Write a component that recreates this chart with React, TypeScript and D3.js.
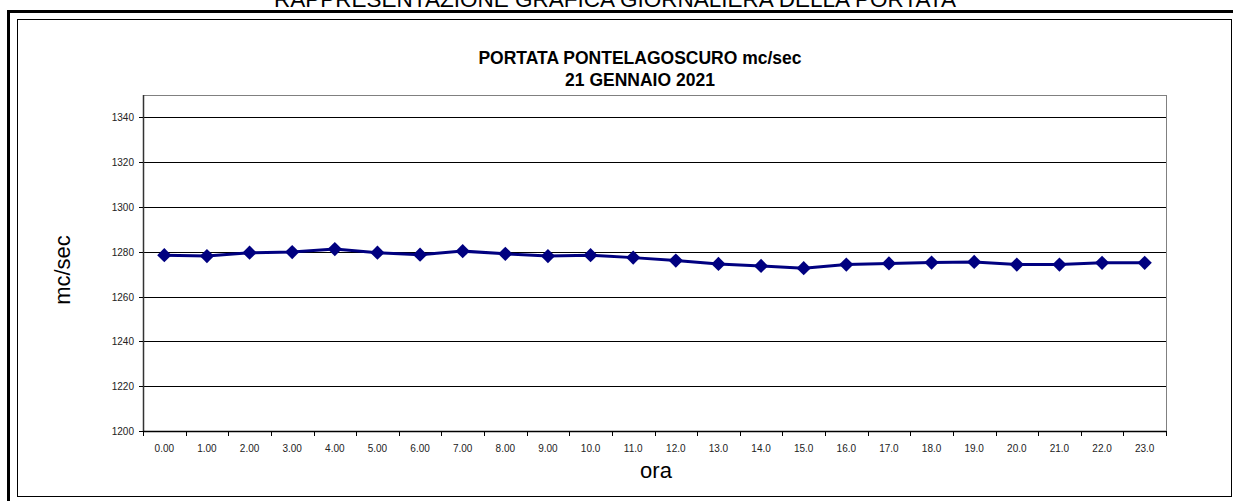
import * as d3 from 'd3';
import React, { useEffect, useRef } from 'react';

const WIDTH = 1233;
const HEIGHT = 501;

const hourLabels = [
  '0.00', '1.00', '2.00', '3.00', '4.00', '5.00', '6.00', '7.00', '8.00', '9.00',
  '10.0', '11.0', '12.0', '13.0', '14.0', '15.0', '16.0', '17.0', '18.0', '19.0',
  '20.0', '21.0', '22.0', '23.0',
];
const portata = [
  1278.5, 1278.1, 1279.6, 1279.9, 1281.2, 1279.6, 1278.7, 1280.3, 1279.1, 1278.1,
  1278.5, 1277.4, 1276.1, 1274.6, 1273.7, 1272.7, 1274.3, 1274.8, 1275.2, 1275.5,
  1274.3, 1274.3, 1275.1, 1275.1,
];
const yTicks = [1200, 1220, 1240, 1260, 1280, 1300, 1320, 1340];

const pageTitle = 'RAPPRESENTAZIONE GRAFICA GIORNALIERA DELLA PORTATA';
const chartTitle = ['PORTATA PONTELAGOSCURO mc/sec', '21 GENNAIO 2021'];
const yLabel = 'mc/sec';
const xLabel = 'ora';

const FONT = 'Arial, "Liberation Sans", Helvetica, sans-serif';
const plot = { left: 143, top: 95, right: 1166, bottom: 431 };

const App: React.FC = () => {
  const ref = useRef<SVGSVGElement>(null);

  useEffect(() => {
    const svg = d3.select(ref.current);
    svg.selectAll('*').remove();

    const x = d3.scaleBand<string>().domain(hourLabels).range([plot.left, plot.right]).padding(0);
    const y = d3.scaleLinear().domain([1200, 1350]).range([plot.bottom, plot.top]);

    svg.append('rect').attr('width', WIDTH).attr('height', HEIGHT).attr('fill', '#fff');

    // page heading, cut off by the top edge as in the scanned page
    svg.append('text')
      .attr('x', 615)
      .attr('y', 7)
      .attr('text-anchor', 'middle')
      .style('font-family', FONT)
      .style('font-size', '22.5px')
      .text(pageTitle);

    // outer thick frame and inner chart border
    svg.append('path')
      .attr('d', `M8.5,${HEIGHT + 5} V11.5 H${WIDTH + 5}`)
      .attr('fill', 'none')
      .attr('stroke', '#000')
      .attr('stroke-width', 3);
    svg.append('rect')
      .attr('x', 17.5)
      .attr('y', 19.5)
      .attr('width', 1214)
      .attr('height', 477)
      .attr('fill', 'none')
      .attr('stroke', '#000')
      .attr('stroke-width', 1);

    // titles
    chartTitle.forEach((t, i) => {
      svg.append('text')
        .attr('x', 640)
        .attr('y', 64 + i * 22)
        .attr('text-anchor', 'middle')
        .style('font-family', FONT)
        .style('font-size', '17.5px')
        .style('font-weight', 'bold')
        .text(t);
    });

    // gridlines
    svg.append('g')
      .selectAll('line')
      .data(yTicks.slice(1))
      .enter()
      .append('line')
      .attr('x1', plot.left)
      .attr('x2', plot.right)
      .attr('y1', d => Math.round(y(d)) + 0.5)
      .attr('y2', d => Math.round(y(d)) + 0.5)
      .attr('stroke', '#000')
      .attr('stroke-width', 1);

    // plot border
    svg.append('rect')
      .attr('x', plot.left + 0.5)
      .attr('y', plot.top + 0.5)
      .attr('width', plot.right - plot.left)
      .attr('height', plot.bottom - plot.top)
      .attr('fill', 'none')
      .attr('stroke', '#808080')
      .attr('stroke-width', 1);

    // y axis
    const yAxis = svg.append('g');
    yAxis.append('line')
      .attr('x1', plot.left + 0.5)
      .attr('x2', plot.left + 0.5)
      .attr('y1', plot.top)
      .attr('y2', plot.bottom)
      .attr('stroke', '#333')
      .attr('stroke-width', 1.5);
    yTicks.forEach(t => {
      const yy = Math.round(y(t)) + 0.5;
      yAxis.append('line')
        .attr('x1', plot.left - 4)
        .attr('x2', plot.left)
        .attr('y1', yy)
        .attr('y2', yy)
        .attr('stroke', '#000');
      yAxis.append('text')
        .attr('x', 134)
        .attr('y', yy + 3.5)
        .attr('text-anchor', 'end')
        .style('font-family', FONT)
        .style('font-size', '10px')
        .attr('fill', '#222')
        .text(t);
    });

    // x axis
    const xAxis = svg.append('g');
    xAxis.append('line')
      .attr('x1', plot.left)
      .attr('x2', plot.right)
      .attr('y1', plot.bottom + 0.5)
      .attr('y2', plot.bottom + 0.5)
      .attr('stroke', '#000')
      .attr('stroke-width', 1.5);
    hourLabels.forEach((h, i) => {
      const tx = Math.round((x(h) as number)) + 0.5;
      xAxis.append('line')
        .attr('x1', tx)
        .attr('x2', tx)
        .attr('y1', plot.bottom)
        .attr('y2', plot.bottom + 5)
        .attr('stroke', '#000');
      if (i === hourLabels.length - 1) {
        const ex = Math.round(plot.right) + 0.5;
        xAxis.append('line')
          .attr('x1', ex)
          .attr('x2', ex)
          .attr('y1', plot.bottom)
          .attr('y2', plot.bottom + 5)
          .attr('stroke', '#000');
      }
      xAxis.append('text')
        .attr('x', (x(h) as number) + x.bandwidth() / 2)
        .attr('y', 452)
        .attr('text-anchor', 'middle')
        .style('font-family', FONT)
        .style('font-size', '10px')
        .attr('fill', '#222')
        .text(h);
    });

    // axis titles
    svg.append('text')
      .attr('transform', 'translate(70,270) rotate(-90)')
      .attr('text-anchor', 'middle')
      .style('font-family', FONT)
      .style('font-size', '22px')
      .text(yLabel);
    svg.append('text')
      .attr('x', 656)
      .attr('y', 478)
      .attr('text-anchor', 'middle')
      .style('font-family', FONT)
      .style('font-size', '22px')
      .text(xLabel);

    // series
    const cx = (i: number) => (x(hourLabels[i]) as number) + x.bandwidth() / 2;
    const line = d3.line<number>()
      .x((_, i) => cx(i))
      .y(d => y(d));
    svg.append('path')
      .datum(portata)
      .attr('d', line)
      .attr('fill', 'none')
      .attr('stroke', '#000080')
      .attr('stroke-width', 3);

    const diamond = d3.symbol().type(d3.symbolDiamond2).size(130);
    svg.append('g')
      .selectAll('path')
      .data(portata)
      .enter()
      .append('path')
      .attr('d', diamond)
      .attr('transform', (d, i) => `translate(${cx(i)},${y(d)})`)
      .attr('fill', '#000080');
  }, []);

  return (
    <svg
      ref={ref}
      width={WIDTH}
      height={HEIGHT}
      style={{ position: 'absolute', left: 0, top: 0 }}
    />
  );
};

export default App;
